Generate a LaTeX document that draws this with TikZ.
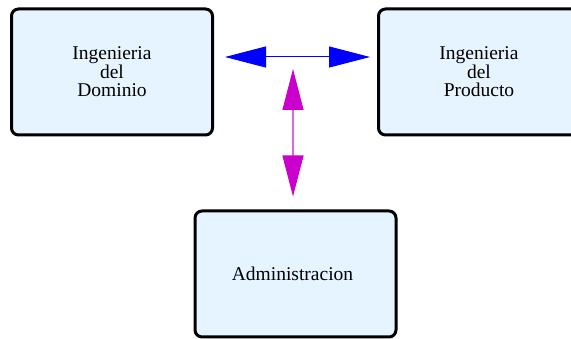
\documentclass[tikz,border=0pt]{standalone}
\usepackage{fontspec}
\setmainfont{Liberation Serif}
\usetikzlibrary{arrows.meta,positioning}

\definecolor{boxfill}{HTML}{E6F4FF}
\definecolor{headblue}{HTML}{0000FF}
\definecolor{headmagenta}{HTML}{CC00CC}
\definecolor{linemagenta}{HTML}{DD66DD}

\newcommand{\boxwidth}{201pt}
\newcommand{\boxheight}{126pt}
\newcommand{\headsize}{Triangle[length=41pt,width=21pt]}

\begin{document}
\begin{tikzpicture}[
    x=1pt, y=-1pt,
    area box/.style={draw, line width=3pt, rounded corners=7pt, fill=boxfill,
        minimum width=\boxwidth, minimum height=\boxheight, align=center,
        font=\fontsize{19.5}{18.5}\selectfont},
    link blue/.style={headblue, line width=1pt, {\headsize}-{\headsize}},
    link magenta/.style={linemagenta, line width=1.2pt,
        {Triangle[length=41pt,width=21pt,color=headmagenta]}-{Triangle[length=41pt,width=21pt,color=headmagenta]}}
]
\useasboundingbox (0,0) rectangle (571,339);

% AREAS
\node[area box] (dominio) at (112,72) {Ingenieria\\del\\Dominio};
\node[area box] (producto) at (479,72) {Ingenieria\\del\\Producto};
\node[area box] (admin) at (295.5,274) {Administracion\hspace*{6pt}};

% LINKS
\coordinate (hub) at (293,57);

\draw[link blue] ([xshift=11pt,yshift=15pt]dominio.east) -- ([xshift=-7pt,yshift=15pt]producto.west);
\draw[link magenta] ([yshift=-12pt]hub) -- ([xshift=-2.5pt,yshift=13pt]admin.north);

\end{tikzpicture}
\end{document}
